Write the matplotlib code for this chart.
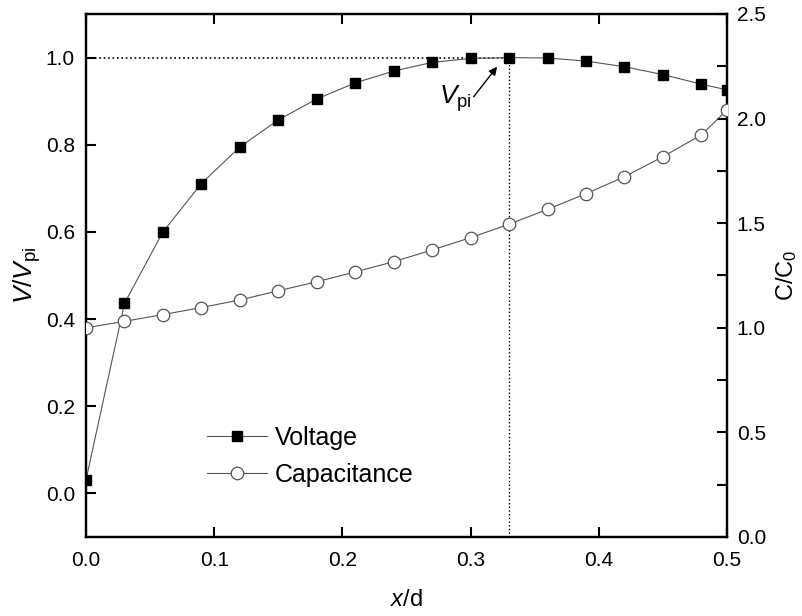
import matplotlib
matplotlib.use('Agg')
import matplotlib.pyplot as plt
from matplotlib.ticker import MultipleLocator, FormatStrFormatter

plt.rcParams['font.family'] = ['Liberation Sans', 'DejaVu Sans']
plt.rcParams['mathtext.fontset'] = 'custom'
plt.rcParams['mathtext.rm'] = 'Liberation Sans'
plt.rcParams['mathtext.it'] = 'Liberation Sans:italic'

# data
x = [0.0, 0.03, 0.06, 0.09, 0.12, 0.15, 0.18, 0.21, 0.24, 0.27,
     0.30, 0.33, 0.36, 0.39, 0.42, 0.45, 0.48, 0.50]
voltage = [0.031, 0.436, 0.600, 0.711, 0.795, 0.857, 0.905, 0.942, 0.969, 0.989,
           0.998, 1.000, 0.999, 0.992, 0.979, 0.961, 0.939, 0.926]
capacitance = [1.000, 1.031, 1.063, 1.097, 1.133, 1.177, 1.220, 1.267, 1.316, 1.372,
               1.431, 1.495, 1.566, 1.641, 1.722, 1.818, 1.922, 2.041]
x_peak = 0.33
v_peak = 1.0

fig = plt.figure(figsize=(8.02, 6.16), dpi=100)
ax = fig.add_axes([86/802, 1 - 537/616, 641/802, 523/616])
ax2 = ax.twinx()

line_col = '#555555'
l1, = ax.plot(x, voltage, '-', color=line_col, lw=0.8, marker='s', ms=7,
              mfc='black', mec='black', label='Voltage', zorder=3)
l2, = ax2.plot(x, capacitance, '-', color=line_col, lw=0.8, marker='o', ms=9,
               mfc='white', mec=line_col, mew=0.9, label='Capacitance', zorder=3)

# dotted guide lines to the peak
ax.plot([0, x_peak], [v_peak, v_peak], ':', color='black', lw=1.2)
ax.plot([x_peak, x_peak], [-0.1, v_peak], ':', color='black', lw=1.0)

ax.annotate('', xy=(0.322, 0.984), xytext=(0.301, 0.905),
            arrowprops=dict(arrowstyle='-|>', color='black', lw=1.0,
                            mutation_scale=12))
ax.text(0.2754, 0.893, r'$\mathit{V}_{\mathrm{pi}}$', fontsize=19,
        ha='left', va='baseline')

ax.set_xlim(0, 0.5)
ax.set_ylim(-0.1, 1.1)
ax2.set_ylim(0, 2.5)

ax.xaxis.set_major_locator(MultipleLocator(0.1))
ax.yaxis.set_major_locator(MultipleLocator(0.2))
ax2.yaxis.set_major_locator(MultipleLocator(0.5))
ax2.yaxis.set_minor_locator(MultipleLocator(0.25))

ax.tick_params(axis='both', which='major', direction='in', length=7, width=1.5,
               labelsize=15, top=True, pad=10)
ax.tick_params(axis='y', which='both', right=False, pad=8)
ax2.tick_params(axis='y', which='both', direction='in', length=7, width=1.5,
                labelsize=15, pad=7)
ax.xaxis.set_major_formatter(FormatStrFormatter('%.1f'))
ax.yaxis.set_major_formatter(FormatStrFormatter('%.1f'))
ax2.yaxis.set_major_formatter(FormatStrFormatter('%.1f'))

for sp in list(ax.spines.values()) + list(ax2.spines.values()):
    sp.set_linewidth(1.6)

ax.set_xlabel(r'$\mathit{x}$/d', fontsize=17, labelpad=14)
ax.set_ylabel(r'$\mathit{V}/\mathit{V}_{\mathrm{pi}}$', fontsize=19, labelpad=2)
ax2.set_ylabel(r'C/C$_{\mathrm{0}}$', fontsize=17, labelpad=6)

ax.legend([l1, l2], ['Voltage', 'Capacitance'], loc='center left',
          bbox_to_anchor=(0.153, 0.154), frameon=False, fontsize=18,
          handlelength=2.4, handletextpad=0.32, labelspacing=0.5)

fig.savefig('out.png', dpi=100)
